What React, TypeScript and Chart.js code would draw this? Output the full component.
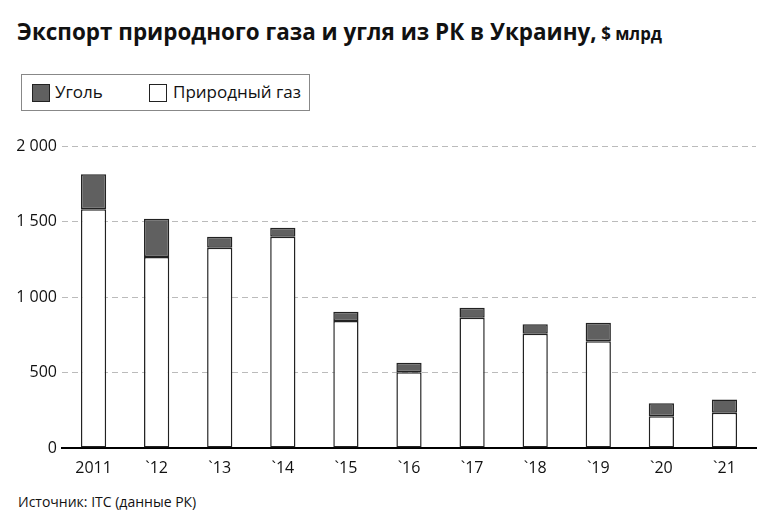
import React, { useEffect, useRef } from "react";
import { Chart, registerables } from "chart.js";
Chart.register(...registerables);

const categories = ["2011", "`12", "`13", "`14", "`15", "`16", "`17", "`18", "`19", "`20", "`21"];
const gasValues = [1581, 1265, 1326, 1399, 841, 501, 863, 757, 707, 210, 234];
const coalValues = [232, 254, 73, 60, 62, 64, 66, 62, 123, 86, 88];
const yTicks = [0, 500, 1000, 1500, 2000];

const FONT = "'Open Sans', 'DejaVu Sans', sans-serif";

function fmt(v: number): string {
  return v >= 1000 ? `${Math.floor(v / 1000)} ${String(v % 1000).padStart(3, "0")}` : String(v);
}

export default function App() {
  const ref = useRef<HTMLCanvasElement | null>(null);
  useEffect(() => {
    if (!ref.current) return;
    const chart = new Chart(ref.current, {
      type: "bar",
      data: {
        labels: categories,
        datasets: [
          {
            label: "Природный газ",
            data: gasValues,
            backgroundColor: "#ffffff",
            borderColor: "#222222",
            borderWidth: 1.5,
            borderSkipped: false,
            barPercentage: 0.8,
            categoryPercentage: 0.5,
          },
          {
            label: "Уголь",
            data: coalValues,
            backgroundColor: "#606060",
            borderColor: "#222222",
            borderWidth: 1.5,
            borderSkipped: false,
            barPercentage: 0.8,
            categoryPercentage: 0.5,
          },
        ],
      },
      options: {
        animation: false,
        responsive: false,
        maintainAspectRatio: false,
        layout: { padding: { left: 0, right: 26, top: 26, bottom: 0 } },
        plugins: { legend: { display: false }, tooltip: { enabled: false }, title: { display: false } },
        scales: {
          x: {
            stacked: true,
            grid: { display: false },
            border: { display: true, color: "#000", width: 2 },
            ticks: { color: "#111", font: { family: FONT, size: 16 }, padding: 3, maxRotation: 0 },
            afterFit: (s: any) => { s.height = 32; },
          },
          y: {
            stacked: true,
            min: 0,
            max: 2000,
            afterBuildTicks: (s: any) => { s.ticks = yTicks.map((v) => ({ value: v })); },
            grid: { color: "#bbbbbb", lineWidth: 1, drawTicks: false },
            border: { display: false, dash: [6, 4] },
            ticks: {
              color: "#111",
              font: { family: FONT, size: 16 },
              padding: 5,
              callback: (v: any) => fmt(Number(v)),
            },
            afterFit: (s: any) => { s.width = 62; },
          },
        },
      },
    });
    return () => chart.destroy();
  }, []);

  const sq = (left: number, bg: string): React.CSSProperties => ({
    position: "absolute",
    left,
    top: 9,
    width: 16,
    height: 16,
    background: bg,
    border: "1px solid #222",
  });
  const txt = (left: number): React.CSSProperties => ({
    position: "absolute",
    left,
    top: 5,
    fontSize: 17,
    lineHeight: "24px",
    whiteSpace: "nowrap",
  });

  return (
    <div style={{ position: "absolute", left: 0, top: 0, width: 782, height: 515, background: "#fff", fontFamily: FONT, color: "#111", overflow: "hidden" }}>
      <div style={{ position: "absolute", left: 17, top: 14, whiteSpace: "nowrap", transform: "scaleX(0.935)", transformOrigin: "left top" }}>
        <span style={{ fontSize: 24, fontWeight: "bold" }}>Экспорт природного газа и угля из РК в Украину,</span>
        <span style={{ fontSize: 18, fontWeight: "bold" }}> $ млрд</span>
      </div>
      <div style={{ position: "absolute", left: 21, top: 74, width: 287, height: 35, border: "1px solid #888" }}>
        <span style={sq(10, "#606060")} />
        <span style={txt(33)}>Уголь</span>
        <span style={sq(127, "#ffffff")} />
        <span style={txt(151)}>Природный газ</span>
      </div>
      <canvas ref={ref} width={782} height={360} style={{ position: "absolute", left: 0, top: 120, width: 782, height: 360 }} />
      <div style={{ position: "absolute", left: 18, top: 492, fontSize: 14, lineHeight: "19px", whiteSpace: "nowrap" }}>Источник: ITC (данные РК)</div>
    </div>
  );
}
